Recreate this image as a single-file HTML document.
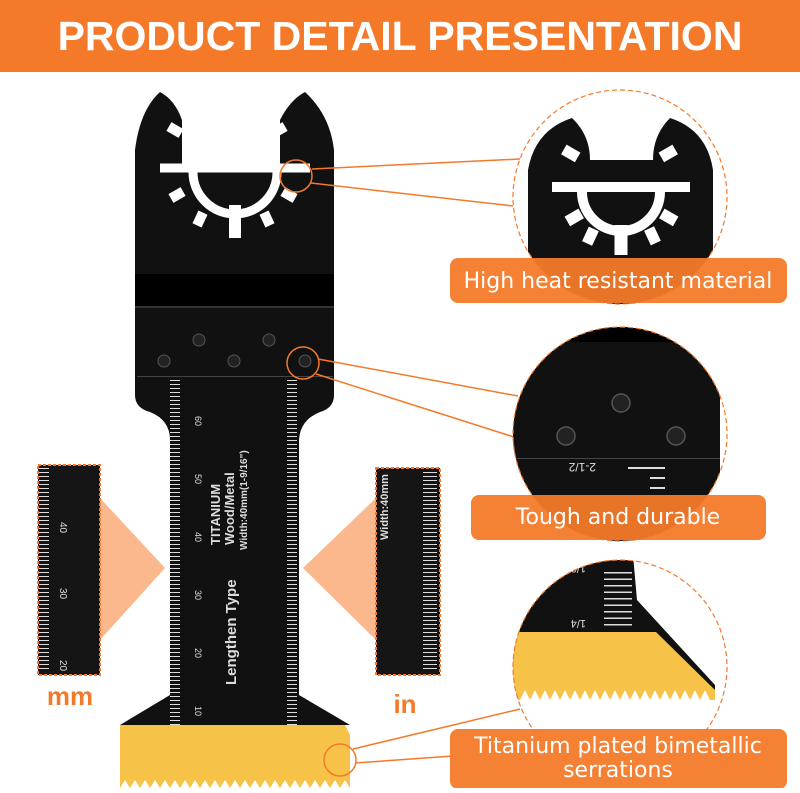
<!DOCTYPE html>
<html><head><meta charset="utf-8"><style>
body{margin:0;width:800px;height:788px;overflow:hidden;background:#fff;font-family:"Liberation Sans",sans-serif}
</style></head><body>
<svg width="800" height="788" viewBox="0 0 800 788" xmlns="http://www.w3.org/2000/svg">
<defs>
<clipPath id="c1"><circle cx="620" cy="197" r="107"/></clipPath>
<clipPath id="c2"><circle cx="620" cy="434" r="107"/></clipPath>
<clipPath id="c3"><circle cx="620" cy="667" r="107"/></clipPath>
</defs>
<rect x="0" y="0" width="800" height="72" fill="#f47a2a"/>
<text x="400" y="50" text-anchor="middle" font-size="41" font-weight="bold" fill="#fff" font-family="Liberation Sans, sans-serif">PRODUCT DETAIL PRESENTATION</text>

<!-- blade -->
<path d="M135,150 Q140,110 160,92 Q175,100 182,120 L182,165 L280,165 L280,120 Q290,100 305,92 Q330,115 334,150 L334,395 Q334,408 320,412 Q300,420 299,440 L299,695 L350,725 L120,725 L170,695 L170,440 Q170,420 150,412 Q135,408 135,395 Z" fill="#111"/>
<rect x="135" y="274" width="199" height="32" fill="#000"/>
<rect x="135" y="306" width="199" height="2" fill="#333"/>
<rect x="137" y="376" width="196" height="1" fill="#444"/>
<!-- mount hole -->
<g fill="none" stroke="#fff">
<path d="M160,168 H310" stroke-width="9"/>
<path d="M193,172 A42,42 0 0 0 277,172" stroke-width="9"/>
<path d="M235,205 V238" stroke-width="12"/>
</g>
<g fill="#fff">
<rect x="168" y="125" width="14" height="10" transform="rotate(30 175 130)"/>
<rect x="272" y="125" width="14" height="10" transform="rotate(-30 279 130)"/>
<rect x="170" y="190" width="14" height="10" transform="rotate(-30 177 195)"/>
<rect x="282" y="190" width="14" height="10" transform="rotate(30 289 195)"/>
<rect x="195" y="212" width="10" height="14" transform="rotate(25 200 219)"/>
<rect x="262" y="212" width="10" height="14" transform="rotate(-25 267 219)"/>
</g>
<g fill="#222" stroke="#555"><circle cx="199" cy="340" r="6"/><circle cx="269" cy="340" r="6"/><circle cx="164" cy="361" r="6"/><circle cx="234" cy="361" r="6"/><circle cx="305" cy="361" r="6"/></g>
<!-- ruler ticks -->
<g stroke="#ddd" stroke-width="1">
<path d="M175,380 V725" stroke-dasharray="1 3" stroke-width="10"/>
<path d="M292,380 V725" stroke-dasharray="1 3" stroke-width="10"/>
</g>
<g fill="#ddd" font-size="9" font-family="Liberation Sans, sans-serif">
<text x="195" y="416" transform="rotate(90 195 416)">60</text>
<text x="195" y="474" transform="rotate(90 195 474)">50</text>
<text x="195" y="532" transform="rotate(90 195 532)">40</text>
<text x="195" y="590" transform="rotate(90 195 590)">30</text>
<text x="195" y="648" transform="rotate(90 195 648)">20</text>
<text x="195" y="706" transform="rotate(90 195 706)">10</text>
</g>
<g fill="#ddd" font-weight="bold" font-family="Liberation Sans, sans-serif">
<text transform="translate(220,545) rotate(-90)" font-size="13">TITANIUM</text>
<text transform="translate(234,545) rotate(-90)" font-size="13">Wood/Metal</text>
<text transform="translate(247,550) rotate(-90)" font-size="10">Width:40mm(1-9/16")</text>
<text transform="translate(236,685) rotate(-90)" font-size="15">Lengthen Type</text>
</g>
<!-- gold teeth -->
<path d="M120,725 L345,725 L350,735 L350,788 L120,788 Z" fill="#f6c247"/>
<path d="M120,788 l5,-8 l5,8 l5,-8 l5,8 l5,-8 l5,8 l5,-8 l5,8 l5,-8 l5,8 l5,-8 l5,8 l5,-8 l5,8 l5,-8 l5,8 l5,-8 l5,8 l5,-8 l5,8 l5,-8 l5,8 l5,-8 l5,8 l5,-8 l5,8 l5,-8 l5,8 l5,-8 l5,8 l5,-8 l5,8 l5,-8 l5,8 l5,-8 l5,8 l5,-8 l5,8 l5,-8 l5,8 l5,-8 l5,8 l5,-8 l5,8 l5,-8 l5,8 l5,-8 l5,8 Z" fill="#fff"/>

<!-- insets -->
<polygon points="100,498 165,568 100,640" fill="#fbb88c"/>
<polygon points="376,498 303,568 376,640" fill="#fbb88c"/>
<rect x="38" y="465" width="62" height="210" fill="#151515" stroke="#f47a2a" stroke-width="2" stroke-dasharray="3 2"/>
<rect x="376" y="468" width="64" height="207" fill="#151515" stroke="#f47a2a" stroke-width="2" stroke-dasharray="3 2"/>
<path d="M44,468 V672" stroke="#ddd" stroke-width="10" stroke-dasharray="1 3"/>
<path d="M430,472 V672" stroke="#ddd" stroke-width="14" stroke-dasharray="1 3"/>
<g fill="#ddd" font-size="10" font-family="Liberation Sans, sans-serif">
<text x="60" y="522" transform="rotate(90 60 522)">40</text>
<text x="60" y="588" transform="rotate(90 60 588)">30</text>
<text x="60" y="660" transform="rotate(90 60 660)">20</text>
<text transform="translate(388,540) rotate(-90)" font-weight="bold" font-size="11">Width:40mm</text>
</g>
<text x="70" y="705" text-anchor="middle" font-size="26" font-weight="bold" fill="#f47a2a">mm</text>
<text x="405" y="713" text-anchor="middle" font-size="26" font-weight="bold" fill="#f47a2a">in</text>

<!-- leader lines -->
<g stroke="#f47a2a" stroke-width="1.5" fill="none">
<circle cx="296" cy="176" r="16"/>
<line x1="312" y1="169" x2="520" y2="159"/><line x1="311" y1="183" x2="513" y2="206"/>
<circle cx="303" cy="363" r="16"/>
<line x1="318" y1="359" x2="518" y2="396"/><line x1="316" y1="374" x2="514" y2="437"/>
<circle cx="340" cy="760" r="16"/>
<line x1="353" y1="749" x2="520" y2="709"/><line x1="355" y1="763" x2="453" y2="756"/>
</g>

<!-- circle 1 -->
<g clip-path="url(#c1)">
<path d="M528,170 Q535,130 572,118 Q590,135 590,160 L653,160 Q653,135 670,118 Q707,130 713,170 L713,330 L528,330 Z" fill="#111"/>
<g fill="none" stroke="#fff">
<path d="M552,187 H690" stroke-width="10"/>
<path d="M582,192 A39,39 0 0 0 660,192" stroke-width="10"/>
<path d="M621,225 V255" stroke-width="13"/>
</g>
<g fill="#fff"><rect x="563" y="148" width="16" height="11" transform="rotate(30 571 153)"/><rect x="660" y="148" width="16" height="11" transform="rotate(-30 668 153)"/><rect x="566" y="212" width="16" height="11" transform="rotate(-30 574 217)"/><rect x="661" y="212" width="16" height="11" transform="rotate(30 669 217)"/><rect x="585" y="228" width="11" height="16" transform="rotate(25 590 236)"/><rect x="647" y="228" width="11" height="16" transform="rotate(-25 652 236)"/></g>
</g>
<circle cx="620" cy="197" r="107" fill="none" stroke="#f47a2a" stroke-width="1.2" stroke-dasharray="5 3"/>
<!-- circle 2 -->
<g clip-path="url(#c2)">
<rect x="500" y="320" width="220" height="230" fill="#111"/>
<rect x="500" y="320" width="220" height="22" fill="#000"/>
<rect x="500" y="458" width="220" height="1" fill="#444"/>
<g fill="#222" stroke="#555" stroke-width="1.5"><circle cx="621" cy="403" r="9"/><circle cx="566" cy="436" r="9"/><circle cx="676" cy="436" r="9"/></g>
<text x="596" y="471" fill="#ddd" font-size="12" transform="rotate(180 596 467)">2-1/2</text>
<path d="M628,468 H665 M650,478 H665 M650,488 H665" stroke="#ddd" stroke-width="2"/>
</g>
<circle cx="620" cy="434" r="107" fill="none" stroke="#f47a2a" stroke-width="1.2" stroke-dasharray="5 3"/>
<!-- circle 3 -->
<g clip-path="url(#c3)">
<path d="M500,555 L633,555 L637,600 L715,685 L715,700 L500,700 Z" fill="#111"/>
<path d="M500,632 L656,632 L715,690 L715,700 L500,700 Z" fill="#f6c247"/>
<path d="M500,700 L715,700 L715,740 L500,740 Z" fill="#fff"/>
<path d="M520,700 l5,-10 l5,10 l5,-10 l5,10 l5,-10 l5,10 l5,-10 l5,10 l5,-10 l5,10 l5,-10 l5,10 l5,-10 l5,10 l5,-10 l5,10 l5,-10 l5,10 l5,-10 l5,10 l5,-10 l5,10 l5,-10 l5,10 l5,-10 l5,10 l5,-10 l5,10 l5,-10 l5,10 l5,-10 l5,10 l5,-10 l5,10 l5,-10 l5,10 l5,-10 l5,10 Z" fill="#fff"/>
<path d="M618,572 V627" stroke="#ddd" stroke-width="28" stroke-dasharray="1.5 5"/>
<text x="578" y="573" fill="#ddd" font-size="11" transform="rotate(180 582 569)">1/2</text>
<text x="578" y="628" fill="#ddd" font-size="11" transform="rotate(180 582 624)">1/4</text>
</g>
<circle cx="620" cy="667" r="107" fill="none" stroke="#f47a2a" stroke-width="1.2" stroke-dasharray="5 3"/>

<!-- labels -->
<rect x="450" y="258" width="337" height="45" rx="8" fill="#f47a2a" opacity="0.95"/>
<text x="618" y="288" text-anchor="middle" font-size="22" fill="#fff" font-family="DejaVu Sans, sans-serif">High heat resistant material</text>
<rect x="471" y="495" width="295" height="45" rx="8" fill="#f47a2a" opacity="0.95"/>
<text x="618" y="524" text-anchor="middle" font-size="22" fill="#fff" font-family="DejaVu Sans, sans-serif">Tough and durable</text>
<rect x="450" y="729" width="337" height="60" rx="8" fill="#f47a2a" opacity="0.95"/>
<text x="618" y="753" text-anchor="middle" font-size="22" fill="#fff" font-family="DejaVu Sans, sans-serif">Titanium plated bimetallic</text>
<text x="618" y="777" text-anchor="middle" font-size="22" fill="#fff" font-family="DejaVu Sans, sans-serif">serrations</text>
</svg>
</body></html>
